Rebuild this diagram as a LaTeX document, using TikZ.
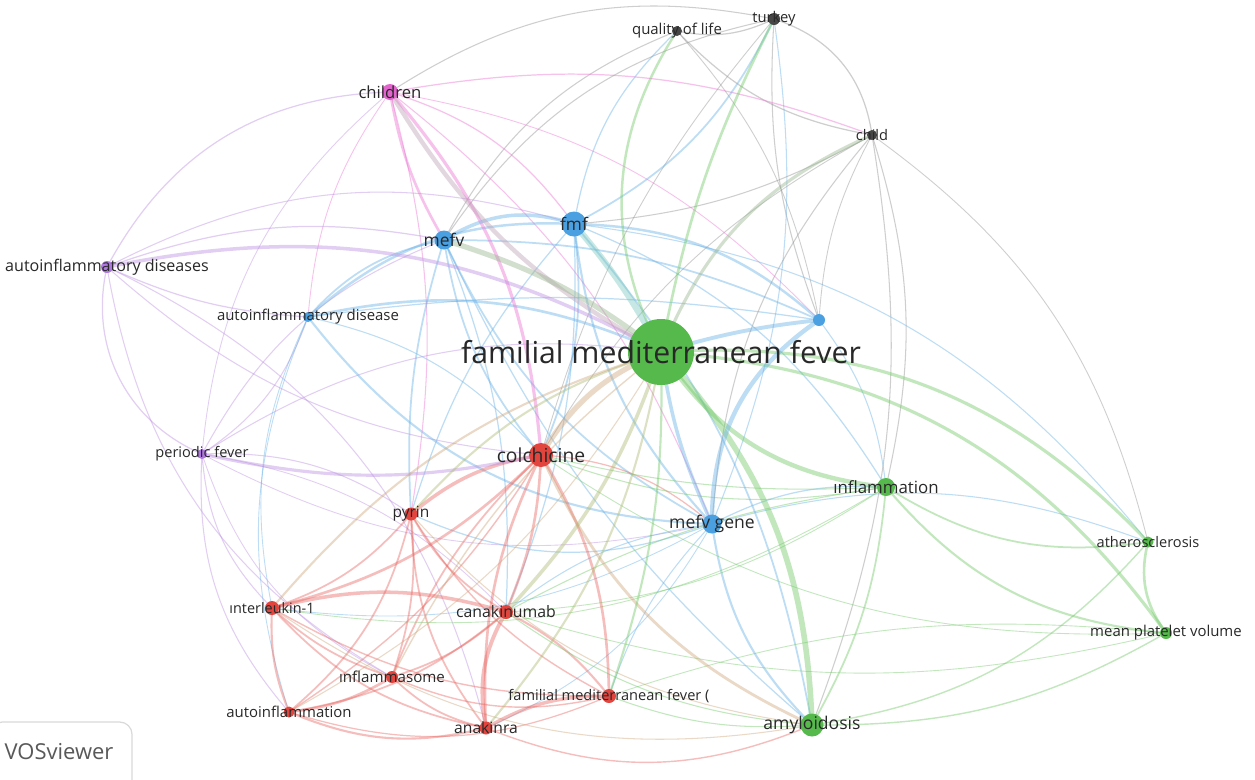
\documentclass[tikz,border=0pt]{standalone}
\usepackage{fontspec}
\setmainfont{Open Sans}
\definecolor{gN}{RGB}{85,185,75}
\definecolor{rN}{RGB}{226,68,62}
\definecolor{bN}{RGB}{74,160,225}
\definecolor{pN}{RGB}{226,100,205}
\definecolor{vN}{RGB}{175,120,225}
\definecolor{kN}{RGB}{70,70,70}
\definecolor{gE}{RGB}{110,200,100}
\definecolor{rE}{RGB}{232,100,95}
\definecolor{bE}{RGB}{100,175,230}
\definecolor{pE}{RGB}{235,110,210}
\definecolor{vE}{RGB}{185,140,225}
\definecolor{kE}{RGB}{140,140,140}
\definecolor{tE}{RGB}{205,165,120}
\definecolor{gk}{RGB}{150,180,140}
\definecolor{bg}{RGB}{120,200,190}
\definecolor{pk}{RGB}{190,160,180}
\definecolor{ol}{RGB}{170,185,110}
\definecolor{labc}{RGB}{40,40,40}
\tikzset{
  ed/.style={draw opacity=0.42, line cap=round},
  lab/.style={text=labc, inner sep=0pt, font=\fontsize{#1}{#1}\selectfont},
}
\begin{document}
\begin{tikzpicture}[x=0.02cm,y=0.02cm]
\useasboundingbox (0,0) rectangle (1255,-779);
\fill[white] (0,0) rectangle (1255,-779);
% positions
\coordinate (F) at (661,-352);
\coordinate (col) at (541,-455);
\coordinate (fmf) at (574,-224);
\coordinate (mefv) at (444,-240);
\coordinate (chi) at (390,-92);
\coordinate (aids) at (107,-267);
\coordinate (aid) at (308,-317);
\coordinate (pf) at (202,-454);
\coordinate (pyr) at (411,-514);
\coordinate (il1) at (272,-608);
\coordinate (can) at (506,-612);
\coordinate (ifs) at (392,-677);
\coordinate (ai) at (289,-712);
\coordinate (ana) at (486,-728);
\coordinate (fmf2) at (609,-696);
\coordinate (amy) at (812,-725);
\coordinate (mg) at (712,-524);
\coordinate (inf) at (886,-487);
\coordinate (ath) at (1148,-542);
\coordinate (mpv) at (1166,-633);
\coordinate (qol) at (677,-31);
\coordinate (tur) at (774,-19);
\coordinate (chd) at (872,-135);
\coordinate (bn) at (819,-320);
% ---------- thin edges ----------
\draw[ed,kE,line width=0.7pt] (qol) to[bend right=18] (tur);
\draw[ed,kE,line width=0.7pt] (qol) to[bend right=18] (chd);
\draw[ed,kE,line width=0.7pt] (tur) to[bend left=32] (chd);
\draw[ed,kE,line width=0.6pt] (tur) to[bend right=12] (bn);
\draw[ed,kE,line width=0.5pt] (qol) to[bend left=15] (bn);
\draw[ed,kE,line width=0.5pt] (chd) to[bend right=12] (bn);
\draw[ed,bE,line width=0.6pt] (tur) to[bend left=15] (mg);
\draw[ed,kE,line width=0.5pt] (chd) to[bend left=20] (ath);
\draw[ed,kE,line width=0.5pt] (tur) to[bend right=12] (col);
\draw[ed,kE,line width=0.5pt] (chd) to[bend right=15] (col);
\draw[ed,kE,line width=0.6pt] (mefv) to[bend left=22] (tur);
\draw[ed,kE,line width=0.6pt] (mefv) to[bend left=20] (qol);
\draw[ed,kE,line width=0.6pt] (chi) to[bend left=22] (tur);
\draw[ed,kE,line width=0.6pt] (fmf) to[bend right=12] (chd);
\draw[ed,kE,line width=0.6pt] (inf) to[bend right=15] (chd);
\draw[ed,kE,line width=0.6pt] (amy) to[bend right=15] (chd);
\draw[ed,kE,line width=0.6pt] (mg) to[bend left=18] (chd);
% purple
\draw[ed,vE,line width=0.7pt] (aids) to[bend left=30] (chi);
\draw[ed,vE,line width=0.7pt] (aids) to[bend right=40] (pf);
\draw[ed,vE,line width=0.7pt] (aids) to[bend right=10] (aid);
\draw[ed,vE,line width=0.6pt] (aids) to[bend right=25] (ifs);
\draw[ed,vE,line width=0.6pt] (aids) to[bend left=25] (ana);
\draw[ed,vE,line width=0.6pt] (aids) to[bend right=18] (col);
\draw[ed,vE,line width=0.6pt] (aids) to[bend left=22] (fmf);
\draw[ed,vE,line width=0.6pt] (pf) to[bend right=18] (aid);
\draw[ed,vE,line width=0.5pt] (pf) to[bend right=22] (ifs);
\draw[ed,vE,line width=0.5pt] (pf) to[bend left=18] (can);
\draw[ed,vE,line width=0.5pt] (pf) to[bend right=20] (mg);
\draw[ed,vE,line width=0.6pt] (pf) to[bend right=20] (il1);
\draw[ed,vE,line width=0.6pt] (pf) to[bend right=22] (ai);
\draw[ed,vE,line width=0.6pt] (pf) to[bend left=18] (pyr);
\draw[ed,vE,line width=0.6pt] (mefv) to[bend right=20] (pf);
\draw[ed,vE,line width=0.5pt] (chi) to[bend right=22] (pf);
\draw[ed,vE,line width=0.6pt] (pf) to[bend left=20] (F);
% pink
\draw[ed,pE,line width=0.7pt] (chi) to[bend left=15] (chd);
\draw[ed,pE,line width=0.5pt] (chi) to[bend right=15] (aid);
\draw[ed,pE,line width=0.6pt] (chi) to[bend left=15] (mg);
\draw[ed,pE,line width=0.5pt] (chi) to[bend left=18] (bn);
\draw[ed,pE,line width=0.6pt] (chi) to[bend left=12] (pyr);
\draw[ed,pE,line width=0.7pt] (chi) to[bend left=18] (fmf);
\draw[ed,pE,line width=1.5pt] (chi) to[bend right=10] (mefv);
% blue
\draw[ed,bE,line width=0.5pt] (aid) to[bend right=18] (il1);
\draw[ed,bE,line width=0.5pt] (aid) to[bend right=20] (ai);
\draw[ed,bE,line width=0.7pt] (aid) to[bend left=8] (bn);
\draw[ed,bE,line width=1.2pt] (aid) to[bend right=25] (mg);
\draw[ed,bE,line width=0.6pt] (aid) to[bend left=18] (col);
\draw[ed,bE,line width=1pt] (aid) to[bend left=18] (mefv);
\draw[ed,bE,line width=1.4pt] (aid) to[bend left=22] (fmf);
\draw[ed,bE,line width=1.5pt] (aid) to[bend left=18] (F);
\draw[ed,bE,line width=1pt] (mefv) to[bend right=18] (mg);
\draw[ed,bE,line width=1pt] (mefv) to[bend left=12] (bn);
\draw[ed,bE,line width=0.7pt] (mefv) to[bend right=12] (amy);
\draw[ed,bE,line width=0.7pt] (mefv) to[bend left=12] (can);
\draw[ed,bE,line width=1pt] (pyr) to[bend left=10] (mefv);
\draw[ed,bE,line width=0.7pt] (pyr) to[bend right=22] (mg);
\draw[ed,bE,line width=1.4pt] (fmf) to[bend left=20] (bn);
\draw[ed,bE,line width=1.2pt] (fmf) to[bend right=18] (mg);
\draw[ed,bE,line width=1pt] (fmf) to[bend left=15] (amy);
\draw[ed,bE,line width=0.7pt] (fmf) to[bend left=18] (inf);
\draw[ed,bE,line width=1pt] (fmf) to[bend right=18] (tur);
\draw[ed,bE,line width=0.7pt] (fmf) to[bend left=18] (qol);
\draw[ed,bE,line width=0.7pt] (fmf) to[bend right=12] (pyr);
\draw[ed,bE,line width=0.7pt] (fmf) to[bend left=12] (can);
\draw[ed,bE,line width=0.6pt] (fmf) to[bend left=22] (ath);
\draw[ed,bE,line width=1.2pt] (mg) to[bend right=18] (amy);
\draw[ed,bE,line width=0.7pt] (mg) to[bend left=15] (inf);
\draw[ed,bE,line width=0.6pt] (mg) to[bend left=18] (ath);
\draw[ed,bE,line width=0.5pt] (il1) to[bend right=18] (mg);
\draw[ed,bE,line width=0.5pt] (ana) to[bend right=18] (mg);
\draw[ed,bE,line width=0.6pt] (fmf2) to[bend left=12] (mg);
\draw[ed,bE,line width=0.6pt] (can) to[bend left=15] (mg);
\draw[ed,bE,line width=0.6pt] (inf) to[bend right=15] (bn);
\draw[ed,bE,line width=1pt] (col) to[bend right=15] (fmf);
\draw[ed,bE,line width=1pt] (col) to[bend left=15] (mefv);
% red
\draw[ed,rE,line width=1pt] (pyr) to[bend left=15] (il1);
\draw[ed,rE,line width=1pt] (pyr) to[bend right=15] (can);
\draw[ed,rE,line width=1pt] (pyr) to[bend right=18] (ana);
\draw[ed,rE,line width=1pt] (pyr) to[bend left=12] (ifs);
\draw[ed,rE,line width=1pt] (pyr) to[bend left=18] (ai);
\draw[ed,rE,line width=0.8pt] (pyr) to[bend right=15] (fmf2);
\draw[ed,rE,line width=1pt] (il1) to[bend right=12] (ifs);
\draw[ed,rE,line width=1.2pt] (il1) to[bend right=12] (ai);
\draw[ed,rE,line width=1pt] (il1) to[bend right=18] (ana);
\draw[ed,rE,line width=0.8pt] (il1) to[bend right=15] (fmf2);
\draw[ed,rE,line width=1pt] (can) to[bend left=12] (ifs);
\draw[ed,rE,line width=1pt] (can) to[bend left=15] (ai);
\draw[ed,rE,line width=1.2pt] (can) to[bend left=12] (fmf2);
\draw[ed,rE,line width=1.5pt] (ifs) to[bend left=12] (ai);
\draw[ed,rE,line width=1pt] (ifs) to[bend right=15] (ana);
\draw[ed,rE,line width=0.8pt] (ifs) to[bend right=18] (fmf2);
\draw[ed,rE,line width=1.2pt] (ai) to[bend right=18] (ana);
\draw[ed,rE,line width=0.7pt] (ai) to[bend right=20] (fmf2);
\draw[ed,rE,line width=0.8pt] (ana) to[bend right=22] (amy);
\draw[ed,rE,line width=1pt] (col) to[bend right=12] (ifs);
\draw[ed,rE,line width=0.8pt] (col) to[bend left=12] (ai);
\draw[ed,rE,line width=0.7pt] (col) to[bend left=18] (mg);
% green/tan thin
\draw[ed,gE,line width=0.6pt] (can) to[bend right=15] (amy);
\draw[ed,gE,line width=0.6pt] (can) to[bend left=10] (inf);
\draw[ed,gE,line width=0.5pt] (can) to[bend right=15] (inf);
\draw[ed,gE,line width=0.5pt] (il1) to[bend right=20] (inf);
\draw[ed,gE,line width=0.6pt] (fmf2) to[bend right=12] (amy);
\draw[ed,gE,line width=0.6pt] (col) to[bend right=15] (inf);
\draw[ed,gE,line width=0.5pt] (col) to[bend right=18] (mpv);
\draw[ed,gE,line width=0.5pt] (can) to[bend right=15] (mpv);
\draw[ed,gE,line width=0.5pt] (fmf2) to[bend left=12] (mpv);
\draw[ed,tE,line width=0.6pt] (il1) to[bend right=22] (amy);
\draw[ed,tE,line width=0.6pt] (pyr) to[bend right=20] (amy);
\draw[ed,gE,line width=1pt] (inf) to[bend left=12] (amy);
\draw[ed,gE,line width=1pt] (inf) to[bend right=20] (ath);
\draw[ed,gE,line width=1.2pt] (inf) to[bend right=22] (mpv);
\draw[ed,gE,line width=0.8pt] (amy) to[bend right=20] (ath);
\draw[ed,gE,line width=0.8pt] (amy) to[bend right=15] (mpv);
\draw[ed,gE,line width=1.5pt] (ath) to[bend right=25] (mpv);
% ---------- medium / thick edges ----------
\draw[ed,rE,line width=2pt] (col) to[bend right=15] (pyr);
\draw[ed,rE,line width=1.5pt] (col) to[bend left=10] (can);
\draw[ed,rE,line width=1.5pt] (col) to[bend right=14] (ana);
\draw[ed,rE,line width=1.5pt] (col) to[bend left=15] (il1);
\draw[ed,rE,line width=1.5pt] (col) to[bend left=15] (fmf2);
\draw[ed,rE,line width=2pt] (il1) to[bend left=15] (can);
\draw[ed,rE,line width=2.2pt] (can) to[bend right=20] (ana);
\draw[ed,rE,line width=2pt] (ana) to[bend left=15] (fmf2);
\draw[ed,tE,line width=1.6pt] (col) to[bend right=20] (amy);
\draw[ed,pE,line width=1.8pt] (chi) to[bend left=18] (col);
\draw[ed,vE,line width=1.8pt] (pf) to[bend right=12] (col);
\draw[ed,vE,line width=2pt] (aids) to[bend left=20] (F);
\draw[ed,vE,line width=0.7pt] (aids) to[bend left=15] (mefv);
\draw[ed,gE,line width=0.6pt] (col) to[bend right=8] (inf);
\draw[ed,bE,line width=2pt] (mefv) to[bend left=25] (fmf);
\draw[ed,ol,line width=1.2pt] (pyr) to[bend left=15] (F);
\draw[ed,ol,line width=2pt] (can) to[bend right=12] (F);
\draw[ed,ol,line width=1.2pt] (ana) to[bend right=15] (F);
\draw[ed,gE,line width=1.2pt] (fmf2) to[bend right=10] (F);
\draw[ed,tE,line width=1.2pt] (il1) to[bend left=16] (F);
\draw[ed,tE,line width=0.8pt] (ifs) to[bend left=12] (F);
\draw[ed,tE,line width=0.6pt] (ai) to[bend right=15] (F);
\draw[ed,pk,line width=2.5pt] (chi) to[bend right=15] (F);
\draw[ed,gE,line width=1.4pt] (F) to[bend left=30] (qol);
\draw[ed,gE,line width=1.5pt] (F) to[bend left=8] (tur);
\draw[ed,gk,line width=1.8pt] (F) to[bend left=22] (chd);
\draw[ed,gE,line width=1.8pt] (F) to[bend left=25] (ath);
\draw[ed,gE,line width=1.8pt] (F) to[bend left=25] (mpv);
\draw[ed,gE,line width=2.5pt] (F) to[bend right=25] (inf);
\draw[ed,gE,line width=3.2pt] (F) to[bend left=20] (amy);
\draw[ed,bE,line width=2pt] (F) to[bend right=8] (mg);
\draw[ed,bE,line width=2.5pt] (bn) to[bend right=28] (mg);
\draw[ed,bE,line width=2.2pt] (F) to[bend left=5] (bn);
\draw[ed,tE,line width=3pt] (col) to[bend left=18] (F);
\draw[ed,gk,line width=3pt] (mefv) to[bend left=10] (F);
\draw[ed,bg,line width=3.5pt] (fmf) to[bend left=6] (F);
% ---------- node circles ----------
\fill[gN] (F) circle[radius=33];
\fill[rN] (col) circle[radius=12];
\fill[bN] (fmf) circle[radius=12.5];
\fill[bN] (mefv) circle[radius=9.5];
\fill[pN] (chi) circle[radius=8];
\fill[vN] (aids) circle[radius=6];
\fill[bN] (aid) circle[radius=5];
\fill[vN] (pf) circle[radius=5];
\fill[rN] (pyr) circle[radius=6.5];
\fill[rN] (il1) circle[radius=7];
\fill[rN] (can) circle[radius=7];
\fill[rN] (ifs) circle[radius=6];
\fill[rN] (ai) circle[radius=5.5];
\fill[rN] (ana) circle[radius=6.5];
\fill[rN] (fmf2) circle[radius=7];
\fill[gN] (amy) circle[radius=11.5];
\fill[bN] (mg) circle[radius=9.5];
\fill[gN] (inf) circle[radius=9];
\fill[gN] (ath) circle[radius=5.5];
\fill[gN] (mpv) circle[radius=6];
\fill[kN] (qol) circle[radius=5];
\fill[kN] (tur) circle[radius=6];
\fill[kN] (chd) circle[radius=5];
\fill[bN] (bn) circle[radius=6];
% ---------- labels ----------
\node[lab=17.2] (l-F) at (F) {familial mediterranean fever};
\node[lab=11] (l-col) at (col) {colchicine};
\node[lab=9.8] (l-fmf) at (fmf) {fmf};
\node[lab=9.9] (l-mefv) at (mefv) {mefv};
\node[lab=9.5] (l-chi) at (chi) {children};
\node[lab=9.15] (l-aids) at (aids) {autoinflammatory diseases};
\node[lab=8.5] (l-aid) at (aid) {autoinflammatory disease};
\node[lab=8.3] (l-pf) at (pf) {periodic fever};
\node[lab=8.8] (l-pyr) at (pyr) {pyrin};
\node[lab=8.2] (l-il1) at (il1) {ınterleukin-1};
\node[lab=9] (l-can) at (can) {canakinumab};
\node[lab=8.6] (l-ifs) at (ifs) {ınflammasome};
\node[lab=8.5] (l-ai) at (ai) {autoinflammation};
\node[lab=8.9] (l-ana) at (ana) {anakinra};
\node[lab=8.3] (l-fmf2) at (fmf2) {familial mediterranean fever (};
\node[lab=10] (l-amy) at (amy) {amyloidosis};
\node[lab=10] (l-mg) at (mg) {mefv gene};
\node[lab=9.6] (l-inf) at (inf) {ınflammation};
\node[lab=8.3] (l-ath) at (ath) {atherosclerosis};
\node[lab=8.5] (l-mpv) at (mpv) {mean platelet volume};
\node[lab=8.5] (l-qol) at (qol) {quality of life};
\node[lab=8.4] (l-tur) at (tur) {turkey};
\node[lab=8.3] (l-chd) at (chd) {child};
% ---------- VOSviewer badge ----------
\draw[draw=black!15, line width=0.7pt, rounded corners=7pt] (-10,-722) rectangle (132,-795);
\node[inner sep=0pt, text=black!65, font=\fontsize{12.5}{12.5}\selectfont] (vos) at (59,-752) {VOSviewer};
\end{tikzpicture}
\end{document}
